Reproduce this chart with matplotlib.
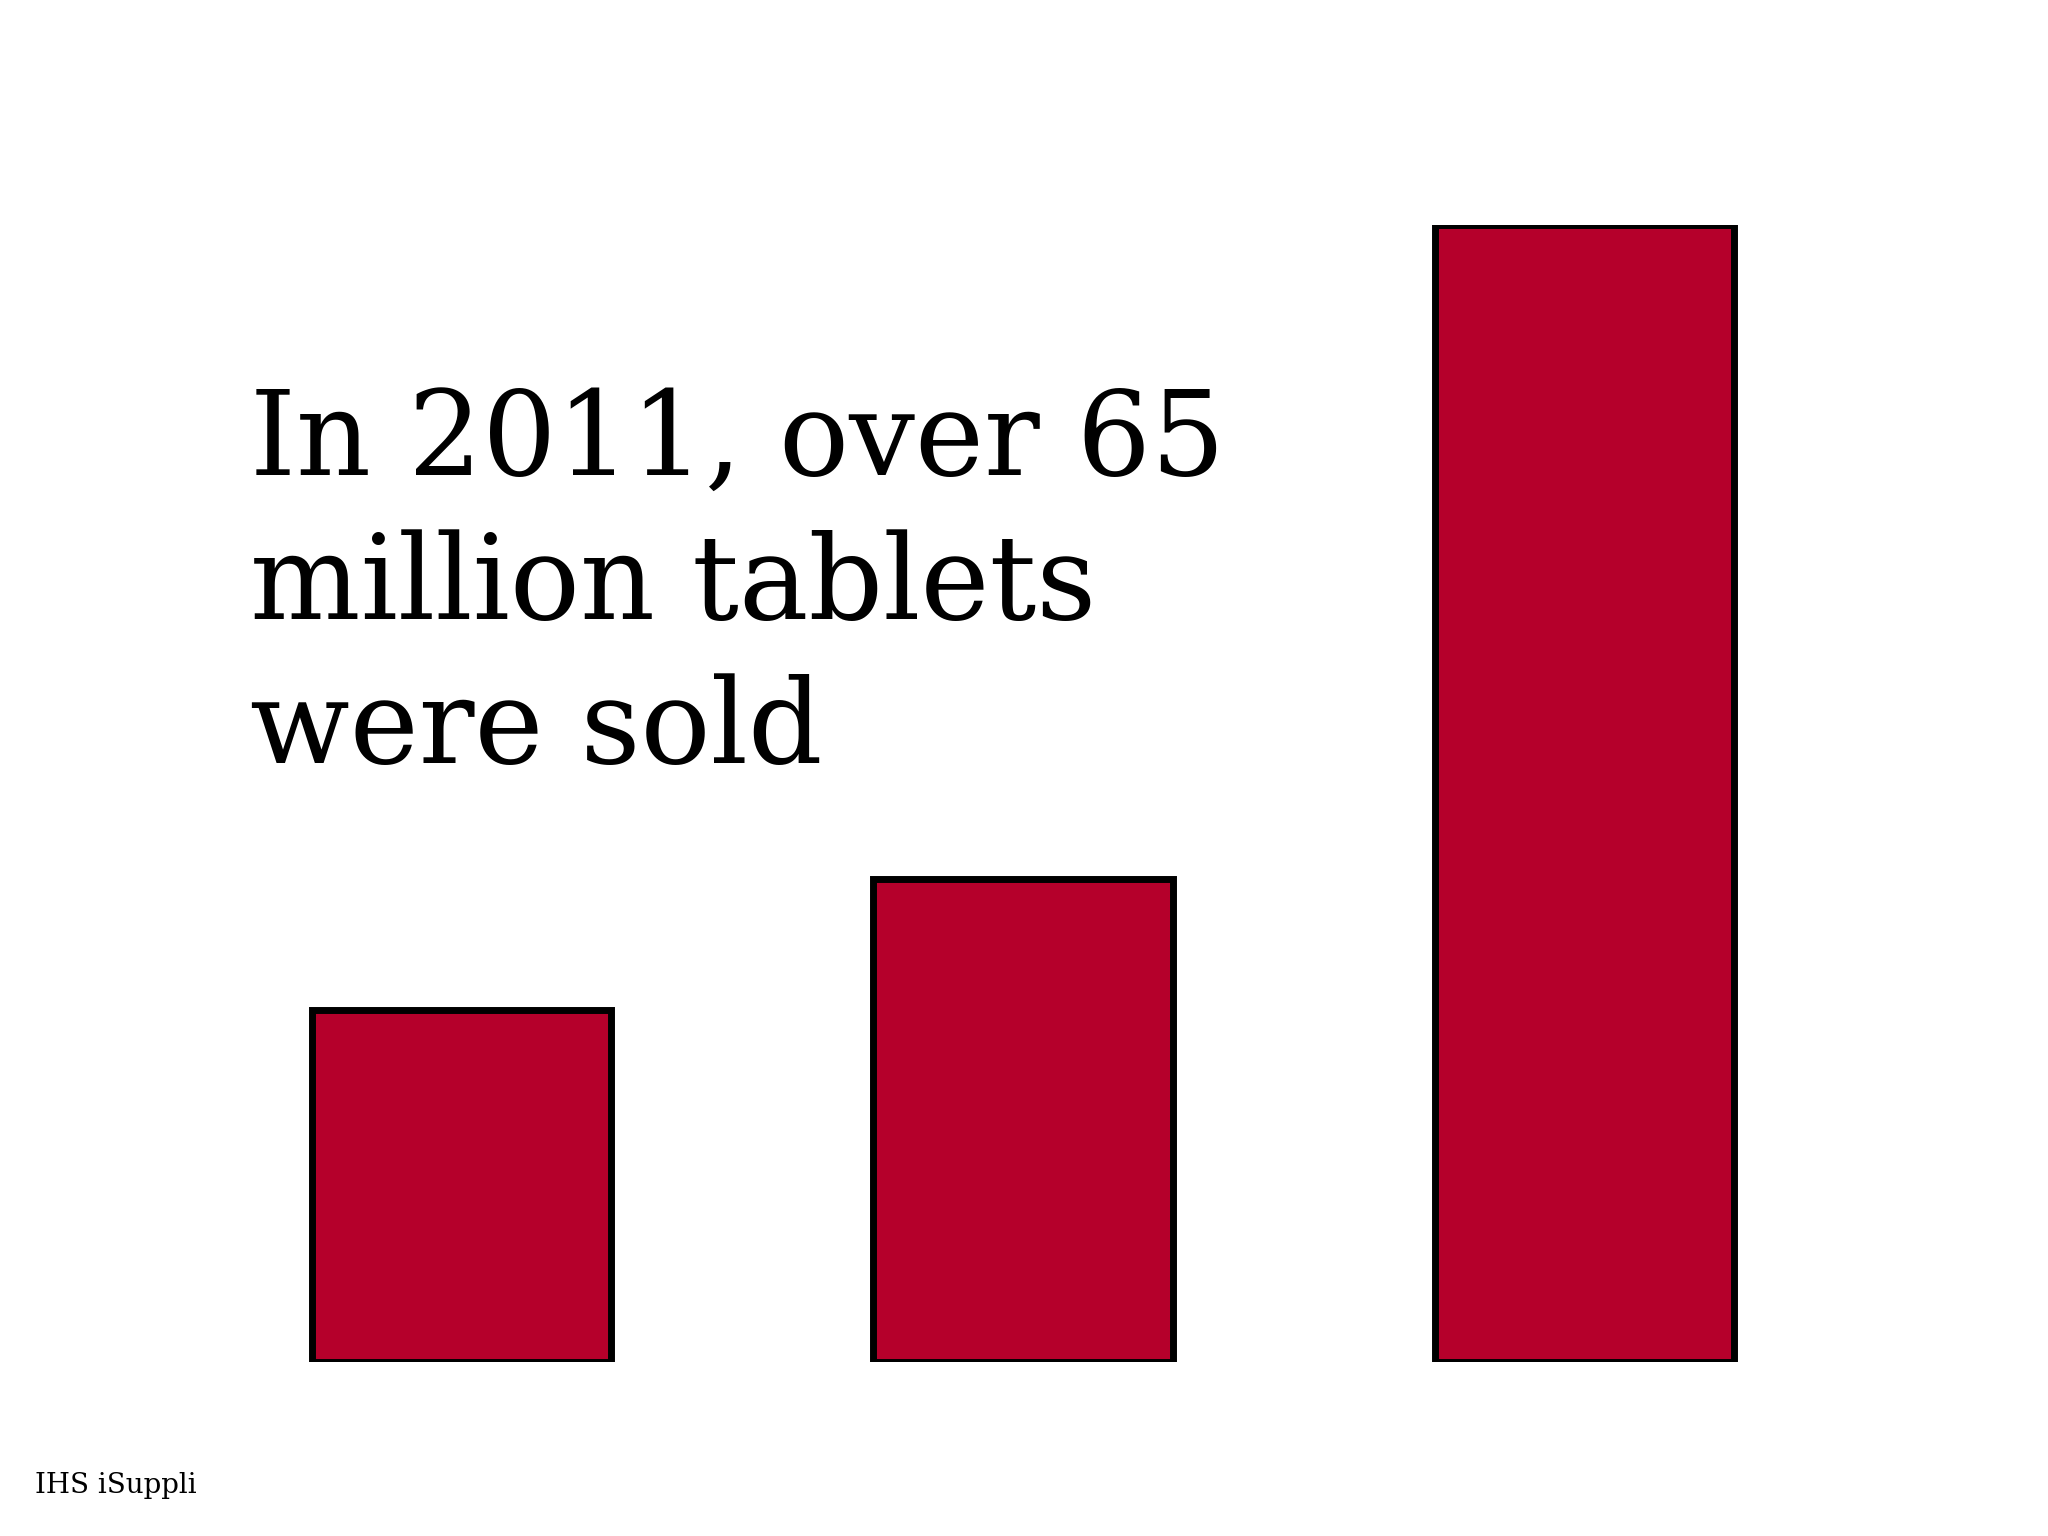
import matplotlib
matplotlib.use("Agg")
import matplotlib.pyplot as plt

# approximate tablet sales (millions)
years = ["2009", "2010", "2011"]
sales = [20.1, 27.6, 65.0]

fig = plt.figure(figsize=(20.48, 15.36), dpi=100)
ax = fig.add_axes([0.0885, 0.1134, 0.822, 0.740])
ax.bar(range(len(years)), sales, width=0.533, color="#b5002b",
       edgecolor="black", linewidth=5)
ax.set_xlim(-0.5, 2.5)
ax.set_ylim(0, 65)
ax.axis("off")

fig.text(0.122, 0.503, "In 2011, over 65\nmillion tablets\nwere sold",
         fontsize=84, family="DejaVu Serif", va="baseline", ha="left",
         linespacing=1.33)
fig.text(0.017, 0.028, "IHS iSuppli", fontsize=20, family="DejaVu Serif")

fig.savefig("out.png", dpi=100, facecolor="white")
